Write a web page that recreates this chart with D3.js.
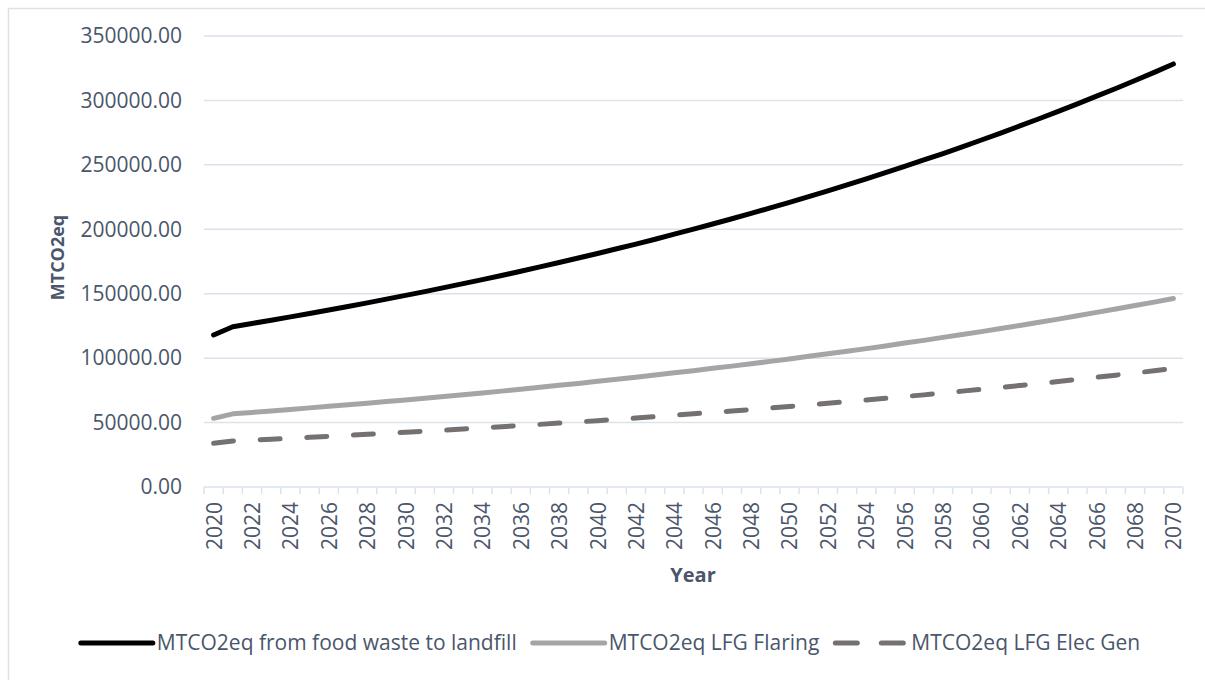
<!DOCTYPE html>
<html lang="en">

<head>
    <meta charset="UTF-8">
    <script src="https://d3js.org/d3.v7.min.js"></script>
    <title>MTCO2eq by year</title>
</head>

<body style="margin: 0; background: #fff;">
</body>
<script>
    // years on the category axis
    const years = d3.range(2020, 2071);
    const yTicks = [0, 50000, 100000, 150000, 200000, 250000, 300000, 350000];

    const foodWaste = [118000, 124400, 126900, 129400, 132000, 134700, 137300, 140100, 142900, 145800,
        148700, 151600, 154700, 157800, 160900, 164100, 167400, 170800, 174200, 177700,
        181200, 184900, 188500, 192300, 196200, 200100, 204100, 208200, 212300, 216600,
        220900, 225300, 229800, 234400, 239100, 243900, 248800, 253800, 258800, 264000,
        269300, 274700, 280200, 285800, 291500, 297300, 303300, 309300, 315500, 321800, 328300];

    const flaring = [53300, 56800, 57900, 59000, 60200, 61400, 62600, 63800, 65000, 66300,
        67600, 68900, 70200, 71600, 73000, 74400, 75900, 77400, 78900, 80400,
        82000, 83600, 85200, 86900, 88600, 90300, 92100, 93800, 95700, 97500,
        99400, 101400, 103400, 105400, 107400, 109500, 111700, 113800, 116100, 118300,
        120600, 123000, 125400, 127800, 130300, 132900, 135500, 138100, 140800, 143500, 146300];

    const elecGen = [33900, 35700, 36400, 37100, 37800, 38600, 39300, 40100, 40900, 41700,
        42500, 43300, 44100, 45000, 45900, 46800, 47700, 48600, 49600, 50500,
        51500, 52500, 53500, 54600, 55700, 56800, 57900, 59000, 60100, 61300,
        62500, 63700, 65000, 66200, 67500, 68800, 70200, 71500, 73000, 74400,
        75800, 77300, 78800, 80300, 81900, 83500, 85200, 86800, 88500, 90200, 92000];

    const seriesNames = ["MTCO2eq from food waste to landfill", "MTCO2eq LFG Flaring", "MTCO2eq LFG Elec Gen"];

    const width = 1205;
    const height = 680;
    const margin = { top: 36, right: 22, bottom: 193, left: 204 };
    const textColor = "#4a566b";
    const gridColor = "#dae2eb";
    const font = "'Open Sans', sans-serif";

    const series = [
        { name: seriesNames[0], values: foodWaste, color: "#000000", dash: null },
        { name: seriesNames[1], values: flaring, color: "#a5a5a5", dash: null },
        { name: seriesNames[2], values: elecGen, color: "#767171", dash: "20 26.7" }
    ];

    const svg = d3.select("body")
        .append("svg")
        .attr("width", width)
        .attr("height", height)
        .attr("viewBox", [0, 0, width, height])
        .style("font-family", font);

    // chart border
    svg.append("rect")
        .attr("x", 8.5)
        .attr("y", 8.5)
        .attr("width", width)
        .attr("height", height)
        .attr("fill", "none")
        .attr("stroke", gridColor)
        .attr("stroke-width", 1.5);

    const x = d3.scaleBand()
        .domain(years)
        .range([margin.left, width - margin.right])
        .padding(0);

    const y = d3.scaleLinear()
        .domain([0, 350000])
        .range([height - margin.bottom, margin.top]);

    // gridlines
    svg.append("g")
        .selectAll("line")
        .data(yTicks.slice(1))
        .join("line")
        .attr("x1", margin.left)
        .attr("x2", width - margin.right)
        .attr("y1", d => y(d))
        .attr("y2", d => y(d))
        .attr("stroke", gridColor)
        .attr("stroke-width", 1.5);

    // y axis labels
    const yAxis = g => g
        .attr("transform", `translate(${margin.left - 22},0)`)
        .call(d3.axisLeft(y).tickValues(yTicks).tickFormat(d3.format(".2f")).tickSize(0))
        .call(g => g.select(".domain").remove())
        .call(g => g.selectAll("text")
            .attr("x", 0)
            .attr("fill", textColor)
            .style("font-size", "21px")
            .style("font-family", font));

    svg.append("g").call(yAxis);

    // x axis: line, tick marks at band edges, every other label
    const x0 = margin.left;
    const bw = x.bandwidth();
    const edges = d3.range(years.length + 1).map(i => x0 + i * bw);
    const xAxisG = svg.append("g");
    xAxisG.append("line")
        .attr("x1", margin.left)
        .attr("x2", width - margin.right)
        .attr("y1", y(0))
        .attr("y2", y(0))
        .attr("stroke", gridColor)
        .attr("stroke-width", 1.5);
    xAxisG.selectAll(".tk")
        .data(edges)
        .join("line")
        .attr("class", "tk")
        .attr("x1", d => d)
        .attr("x2", d => d)
        .attr("y1", y(0))
        .attr("y2", y(0) + 7)
        .attr("stroke", gridColor)
        .attr("stroke-width", 1.5);
    xAxisG.selectAll("text")
        .data(years.filter(d => d % 2 === 0))
        .join("text")
        .attr("transform", d => `translate(${x(d) + bw / 2 + 8},${y(0) + 15}) rotate(-90)`)
        .attr("text-anchor", "end")
        .attr("fill", textColor)
        .style("font-size", "21px")
        .text(d => d);

    // axis titles
    svg.append("text")
        .attr("transform", `translate(64,${(margin.top + y(0)) / 2 - 4}) rotate(-90)`)
        .attr("text-anchor", "middle")
        .attr("fill", textColor)
        .attr("font-weight", "bold")
        .style("font-size", "18px")
        .text("MTCO2eq");

    svg.append("text")
        .attr("x", 693)
        .attr("y", 582)
        .attr("text-anchor", "middle")
        .attr("fill", textColor)
        .attr("font-weight", "bold")
        .style("font-size", "20px")
        .text("Year");

    // lines
    const line = d3.line()
        .x((d, i) => x(years[i]) + bw / 2)
        .y(d => y(d));

    svg.append("g")
        .selectAll("path")
        .data(series)
        .join("path")
        .attr("fill", "none")
        .attr("stroke", d => d.color)
        .attr("stroke-width", 5)
        .attr("stroke-linecap", "round")
        .attr("stroke-linejoin", "round")
        .attr("stroke-dasharray", d => d.dash)
        .attr("d", d => line(d.values));

    // legend
    const legend = svg.append("g");
    const sampleLen = 72;
    const gap = 16;
    const items = legend.selectAll("g")
        .data(series)
        .join("g");
    items.append("line")
        .attr("x1", 0)
        .attr("x2", sampleLen)
        .attr("y1", 0)
        .attr("y2", 0)
        .attr("stroke", d => d.color)
        .attr("stroke-width", 5)
        .attr("stroke-linecap", "round")
        .attr("stroke-dasharray", d => d.dash ? "22 24" : null);
    items.append("text")
        .attr("x", sampleLen + 4)
        .attr("dy", "0.35em")
        .attr("fill", textColor)
        .style("font-size", "21px")
        .text(d => d.name);

    let cx = 0;
    items.each(function () {
        const g = d3.select(this);
        g.attr("transform", `translate(${cx},0)`);
        const tw = g.select("text").node().getComputedTextLength();
        cx += sampleLen + 4 + tw + gap;
    });
    const total = cx - gap;
    legend.attr("transform", `translate(${610.5 - total / 2},643)`);
</script>

</html>
